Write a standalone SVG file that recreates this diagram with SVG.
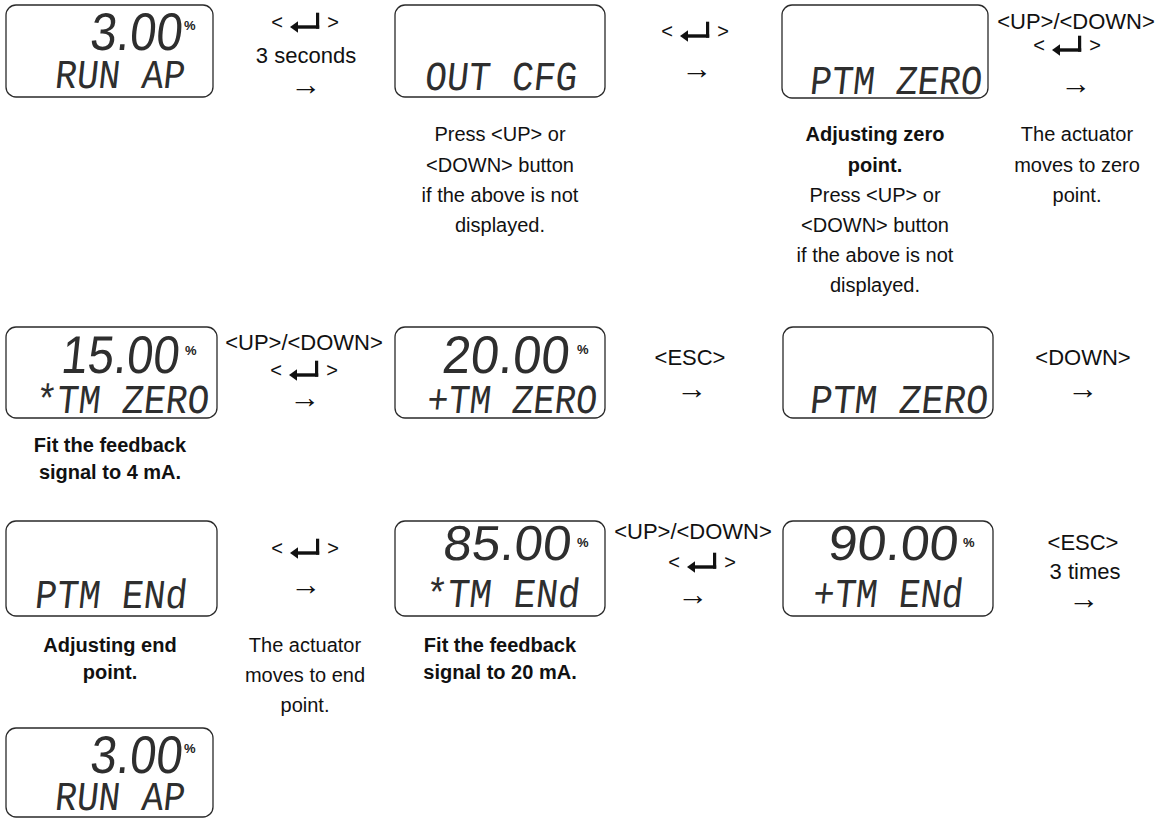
<svg xmlns="http://www.w3.org/2000/svg" width="1171" height="820" viewBox="0 0 1171 820">
<style>
.bg{fill:#fff}
.box{fill:#fff;stroke:#2a2a2a;stroke-width:1.3}
.dig{font-family:"Liberation Sans",Arial,sans-serif;font-size:53px;fill:#2e2e2e}
.dig3{font-size:49px}
.pct{font-family:"Liberation Sans",Arial,sans-serif;font-size:13px;font-weight:bold;fill:#222}
.seg{font-family:"Liberation Mono","DejaVu Sans Mono",monospace;font-size:41px;fill:#2e2e2e}
.lbl{font-family:"Liberation Sans",Arial,sans-serif;font-size:22px;fill:#111;text-anchor:middle}
.arr{font-family:"Liberation Sans",Arial,sans-serif;font-size:31px;fill:#111;text-anchor:middle}
.br{font-family:"Liberation Sans",Arial,sans-serif;font-size:20px;fill:#111;text-anchor:middle}
.desc{font-family:"Liberation Sans",Arial,sans-serif;font-size:20px;fill:#111;text-anchor:middle}
.b{font-weight:bold}
.icon{fill:#111}
</style>
<defs>
<g id="enterIcon" class="icon">
<path d="M-15,0 L-7,-5.8 L-7,5.8 Z"/>
<rect x="-9" y="-1.7" width="23.2" height="3.4"/>
<rect x="11" y="-14.3" width="3.2" height="16"/>
</g>
</defs>
<rect class="bg" x="0" y="0" width="1171" height="820"/>

<g id="node-r1-run">
<rect class="box" x="6" y="5" width="207" height="92" rx="10"/>
<text class="dig" transform="translate(89,50) skewX(-6)" textLength="92" lengthAdjust="spacingAndGlyphs">3.00</text>
<text class="pct" x="184" y="30">%</text>
<text class="seg" transform="translate(54,88) skewX(-6)" textLength="130" lengthAdjust="spacingAndGlyphs">RUN AP</text>
</g>

<g id="node-r1-outcfg">
<rect class="box" x="395" y="5" width="210" height="92" rx="10"/>
<text class="seg" transform="translate(424,90) skewX(-6)" textLength="152" lengthAdjust="spacingAndGlyphs">OUT CFG</text>
</g>

<g id="node-r1-ptmzero">
<rect class="box" x="782" y="5" width="206" height="93" rx="10"/>
<text class="seg" transform="translate(809,94) skewX(-6)" textLength="172" lengthAdjust="spacingAndGlyphs">PTM ZERO</text>
</g>

<g id="node-r2-15">
<rect class="box" x="6" y="327" width="211" height="91" rx="10"/>
<text class="dig" transform="translate(60,373) skewX(-6)" textLength="118" lengthAdjust="spacingAndGlyphs">15.00</text>
<text class="pct" x="185" y="355">%</text>
<text class="seg" transform="translate(34,413) skewX(-6)" textLength="174" lengthAdjust="spacingAndGlyphs">*TM ZERO</text>
</g>

<g id="node-r2-20">
<rect class="box" x="395" y="327" width="210" height="91" rx="10"/>
<text class="dig" transform="translate(441,373) skewX(-6)" textLength="127" lengthAdjust="spacingAndGlyphs">20.00</text>
<text class="pct" x="577" y="354">%</text>
<text class="seg" transform="translate(426,413) skewX(-6)" textLength="170" lengthAdjust="spacingAndGlyphs">+TM ZERO</text>
</g>

<g id="node-r2-ptmzero">
<rect class="box" x="783" y="327" width="210" height="91" rx="10"/>
<text class="seg" transform="translate(809,413) skewX(-6)" textLength="178" lengthAdjust="spacingAndGlyphs">PTM ZERO</text>
</g>

<g id="node-r3-ptmend">
<rect class="box" x="6" y="521" width="211" height="95" rx="10"/>
<text class="seg" transform="translate(34,608) skewX(-6)" textLength="152" lengthAdjust="spacingAndGlyphs">PTM ENd</text>
</g>

<g id="node-r3-85">
<rect class="box" x="395" y="521" width="210" height="95" rx="10"/>
<text class="dig dig3" transform="translate(442,560) skewX(-6)" textLength="128" lengthAdjust="spacingAndGlyphs">85.00</text>
<text class="pct" x="577" y="547">%</text>
<text class="seg" transform="translate(424,607) skewX(-6)" textLength="155" lengthAdjust="spacingAndGlyphs">*TM ENd</text>
</g>

<g id="node-r3-90">
<rect class="box" x="783" y="521" width="210" height="95" rx="10"/>
<text class="dig dig3" transform="translate(827,560) skewX(-6)" textLength="130" lengthAdjust="spacingAndGlyphs">90.00</text>
<text class="pct" x="963" y="547">%</text>
<text class="seg" transform="translate(812,607) skewX(-6)" textLength="150" lengthAdjust="spacingAndGlyphs">+TM ENd</text>
</g>

<g id="node-r4-run">
<rect class="box" x="6" y="728" width="207" height="89" rx="10"/>
<text class="dig" transform="translate(89,773) skewX(-6)" textLength="92" lengthAdjust="spacingAndGlyphs">3.00</text>
<text class="pct" x="184" y="753">%</text>
<text class="seg" transform="translate(54,810) skewX(-6)" textLength="130" lengthAdjust="spacingAndGlyphs">RUN AP</text>
</g>

<g id="connectors">
<g id="c1">
<text class="br" x="277" y="29">&lt;</text><use href="#enterIcon" x="305" y="27"/><text class="br" x="333" y="29">&gt;</text>
<text class="lbl" x="306" y="63">3 seconds</text>
<text class="arr" x="306" y="95">→</text>
</g>
<g id="c2">
<text class="br" x="667" y="38">&lt;</text><use href="#enterIcon" x="695" y="36"/><text class="br" x="723" y="38">&gt;</text>
<text class="arr" x="697" y="79">→</text>
</g>
<g id="c3">
<text class="lbl" x="1076" y="29">&lt;UP&gt;/&lt;DOWN&gt;</text>
<text class="br" x="1039" y="52">&lt;</text><use href="#enterIcon" x="1067" y="50"/><text class="br" x="1095" y="52">&gt;</text>
<text class="arr" x="1076" y="94">→</text>
</g>
<g id="c4">
<text class="lbl" x="304" y="350">&lt;UP&gt;/&lt;DOWN&gt;</text>
<text class="br" x="276" y="377">&lt;</text><use href="#enterIcon" x="304" y="375"/><text class="br" x="332" y="377">&gt;</text>
<text class="arr" x="305" y="408">→</text>
</g>
<g id="c5">
<text class="lbl" x="690" y="365">&lt;ESC&gt;</text>
<text class="arr" x="692" y="399">→</text>
</g>
<g id="c6">
<text class="lbl" x="1083" y="365">&lt;DOWN&gt;</text>
<text class="arr" x="1083" y="399">→</text>
</g>
<g id="c7">
<text class="br" x="277" y="555">&lt;</text><use href="#enterIcon" x="305" y="553"/><text class="br" x="333" y="555">&gt;</text>
<text class="arr" x="306" y="595">→</text>
</g>
<g id="c8">
<text class="lbl" x="693" y="539">&lt;UP&gt;/&lt;DOWN&gt;</text>
<text class="br" x="674" y="569">&lt;</text><use href="#enterIcon" x="702" y="567"/><text class="br" x="730" y="569">&gt;</text>
<text class="arr" x="693" y="605">→</text>
</g>
<g id="c9">
<text class="lbl" x="1083" y="550">&lt;ESC&gt;</text>
<text class="lbl" x="1085" y="579">3 times</text>
<text class="arr" x="1084" y="609">→</text>
</g>
</g>

<g id="notes">
<text class="desc" x="500" y="141">Press &lt;UP&gt; or</text>
<text class="desc" x="500" y="172">&lt;DOWN&gt; button</text>
<text class="desc" x="500" y="202">if the above is not</text>
<text class="desc" x="500" y="232">displayed.</text>

<text class="desc b" x="875" y="141">Adjusting zero</text>
<text class="desc b" x="875" y="172">point.</text>
<text class="desc" x="875" y="202">Press &lt;UP&gt; or</text>
<text class="desc" x="875" y="232">&lt;DOWN&gt; button</text>
<text class="desc" x="875" y="262">if the above is not</text>
<text class="desc" x="875" y="292">displayed.</text>

<text class="desc" x="1077" y="141">The actuator</text>
<text class="desc" x="1077" y="172">moves to zero</text>
<text class="desc" x="1077" y="202">point.</text>

<text class="desc b" x="110" y="452">Fit the feedback</text>
<text class="desc b" x="110" y="479">signal to 4 mA.</text>

<text class="desc b" x="110" y="652">Adjusting end</text>
<text class="desc b" x="110" y="679">point.</text>

<text class="desc" x="305" y="652">The actuator</text>
<text class="desc" x="305" y="682">moves to end</text>
<text class="desc" x="305" y="712">point.</text>

<text class="desc b" x="500" y="652">Fit the feedback</text>
<text class="desc b" x="500" y="679">signal to 20 mA.</text>
</g>
</svg>
